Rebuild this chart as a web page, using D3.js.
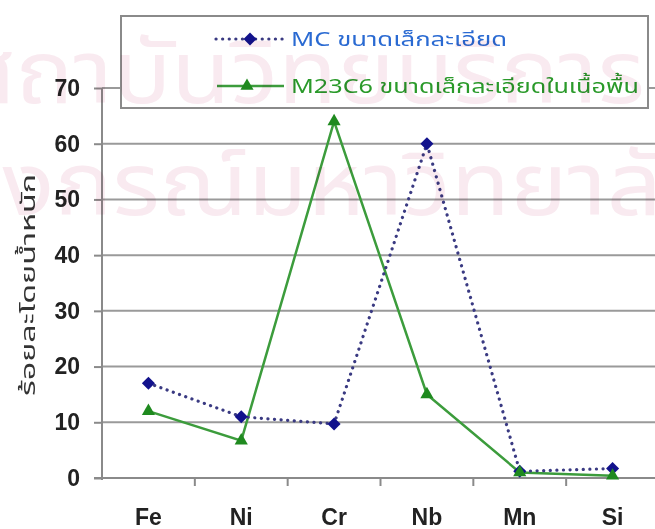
<!DOCTYPE html>
<html><head><meta charset="utf-8">
<script src="https://cdn.jsdelivr.net/npm/d3@7"></script>
<style>body{margin:0;background:#fff} svg{display:block}</style>
</head><body><svg id="chart" width="655" height="529"></svg>
<script>
// Element composition (% by weight) of fine carbides
const categories = ["Fe", "Ni", "Cr", "Nb", "Mn", "Si"];
const mcValues = [17, 11, 9.7, 60, 1.2, 1.7];
const m23c6Values = [12, 6.7, 64, 15, 1, 0.4];
const yTicks = [0, 10, 20, 30, 40, 50, 60, 70];
const seriesNames = ["MC ขนาดเล็กละเอียด", "M23C6 ขนาดเล็กละเอียดในเนื้อพื้น"];
const yTitle = "ร้อยละโดยน้ำหนัก";
const watermarkLines = ["สถาบันวิทยบริการ", "จุฬาลงกรณ์มหาวิทยาลัย"];

const thaiFont = "'Noto Sans Thai', 'Noto Sans Thai UI', Loma, Garuda, 'Tlwg Typo', 'Noto Sans', sans-serif";
const numFont = "'Liberation Sans', Arial, sans-serif";

const svg = d3.select("#chart");
const W = 655, H = 529;
const plotL = 102, plotR = 659, plotT = 88, plotB = 478;

const x = d3.scaleBand().domain(categories).range([plotL, plotR]);
const y = d3.scaleLinear().domain([0, 70]).range([plotB, plotT]);
const cx = d => x(d) + x.bandwidth() / 2;

// horizontal gridlines
svg.append("g").selectAll("line").data(yTicks.filter(t => t > 0)).join("line")
  .attr("x1", plotL).attr("x2", W).attr("y1", d => y(d)).attr("y2", d => y(d))
  .attr("stroke", "#9a9a9a").attr("stroke-width", 2);

// y axis
const yAxis = svg.append("g").attr("transform", `translate(${plotL},0)`)
  .call(d3.axisLeft(y).tickValues(yTicks).tickSize(8).tickPadding(14).tickFormat(d3.format("d")));
yAxis.select(".domain").attr("stroke", "#8a8a8a").attr("stroke-width", 2).attr("d", `M0,${plotT}V${plotB + 2}`);
yAxis.selectAll(".tick line").attr("stroke", "#8a8a8a").attr("stroke-width", 2);
yAxis.selectAll(".tick text").attr("font-family", numFont).attr("font-weight", "bold")
  .attr("font-size", 23).attr("fill", "#222");

// x axis with ticks at category boundaries
const xAxis = svg.append("g").attr("transform", `translate(0,${plotB})`);
xAxis.append("line").attr("x1", plotL - 8).attr("x2", W).attr("stroke", "#8a8a8a").attr("stroke-width", 2);
xAxis.selectAll(".sep").data(categories.slice(1)).join("line").attr("class", "sep")
  .attr("x1", d => x(d)).attr("x2", d => x(d)).attr("y1", 0).attr("y2", 8)
  .attr("stroke", "#8a8a8a").attr("stroke-width", 2);
xAxis.selectAll("text").data(categories).join("text")
  .attr("x", d => cx(d)).attr("y", 47).attr("text-anchor", "middle")
  .attr("font-family", numFont).attr("font-weight", "bold").attr("font-size", 23).attr("fill", "#222")
  .text(d => d);

// y axis title
svg.append("text").attr("transform", `translate(35,${285}) rotate(-90)`)
  .attr("text-anchor", "middle").attr("font-family", thaiFont).attr("font-size", 20).attr("fill", "#333")
  .attr("textLength", 222).attr("lengthAdjust", "spacingAndGlyphs")
  .text(yTitle);

// series
const line = d3.line().x((d, i) => cx(categories[i])).y(d => y(d));
const mcColor = "#3a3a82", mcMarker = "#12128c";
const gColor = "#3c9c3c", gMarker = "#1f8a1f";

svg.append("path").datum(m23c6Values).attr("d", line).attr("fill", "none")
  .attr("stroke", gColor).attr("stroke-width", 2.5);
svg.append("path").datum(mcValues).attr("d", line).attr("fill", "none")
  .attr("stroke", mcColor).attr("stroke-width", 3.2).attr("stroke-linecap", "round")
  .attr("stroke-dasharray", "0.1,6.5");

const diamond = d3.symbol().type(d3.symbolSquare).size(85);
const tri = d3.symbol().type(d3.symbolTriangle).size(75);

svg.append("g").selectAll("path").data(mcValues).join("path")
  .attr("d", diamond).attr("fill", mcMarker)
  .attr("transform", (d, i) => `translate(${cx(categories[i])},${y(d)}) rotate(45)`);
svg.append("g").selectAll("path").data(m23c6Values).join("path")
  .attr("d", tri).attr("fill", gMarker)
  .attr("transform", (d, i) => `translate(${cx(categories[i])},${y(d)})`);

// legend
const lg = svg.append("g");
lg.append("rect").attr("x", 121).attr("y", 16).attr("width", 527).attr("height", 92)
  .attr("fill", "#fff").attr("stroke", "#8a8a8a").attr("stroke-width", 2);
const rows = [
  {name: seriesNames[0], yy: 39, color: "#2a6ad2", dash: true, len: 216},
  {name: seriesNames[1], yy: 86, color: "#2a9a2a", dash: false, len: 348}
];
rows.forEach(r => {
  if (r.dash) {
    lg.append("line").attr("x1", 216).attr("x2", 284).attr("y1", r.yy).attr("y2", r.yy)
      .attr("stroke", mcColor).attr("stroke-width", 3.2).attr("stroke-linecap", "round").attr("stroke-dasharray", "0.1,6.5");
    lg.append("path").attr("d", diamond).attr("fill", mcMarker).attr("transform", `translate(250,${r.yy}) rotate(45)`);
  } else {
    lg.append("line").attr("x1", 217).attr("x2", 284).attr("y1", r.yy).attr("y2", r.yy)
      .attr("stroke", gColor).attr("stroke-width", 2.5);
    lg.append("path").attr("d", tri).attr("fill", gMarker).attr("transform", `translate(247,${r.yy})`);
  }
  lg.append("text").attr("x", 291).attr("y", r.yy).attr("dy", "0.35em")
    .attr("font-family", thaiFont).attr("font-size", 20).attr("fill", r.color)
    .attr("textLength", r.len).attr("lengthAdjust", "spacingAndGlyphs").text(r.name);
});

// faint institutional watermark laid over the whole figure
const wm = svg.append("g").attr("font-family", thaiFont).attr("fill", "#f9eaf0")
  .style("mix-blend-mode", "multiply").attr("pointer-events", "none");
wm.append("text").attr("x", -40).attr("y", 103).attr("font-size", 88)
  .attr("textLength", 685).attr("lengthAdjust", "spacingAndGlyphs").text(watermarkLines[0]);
const wm2 = wm.append("text").attr("y", 215).attr("font-size", 88).text(watermarkLines[1]);
const n2 = watermarkLines[1].length;
const full2 = wm2.node().getComputedTextLength();
const lead2 = wm2.node().getSubStringLength(0, n2 - 1);
const stretch = 1.1;
wm2.attr("x", 662 - lead2 * stretch).attr("textLength", full2 * stretch).attr("lengthAdjust", "spacingAndGlyphs");
</script></body></html>
